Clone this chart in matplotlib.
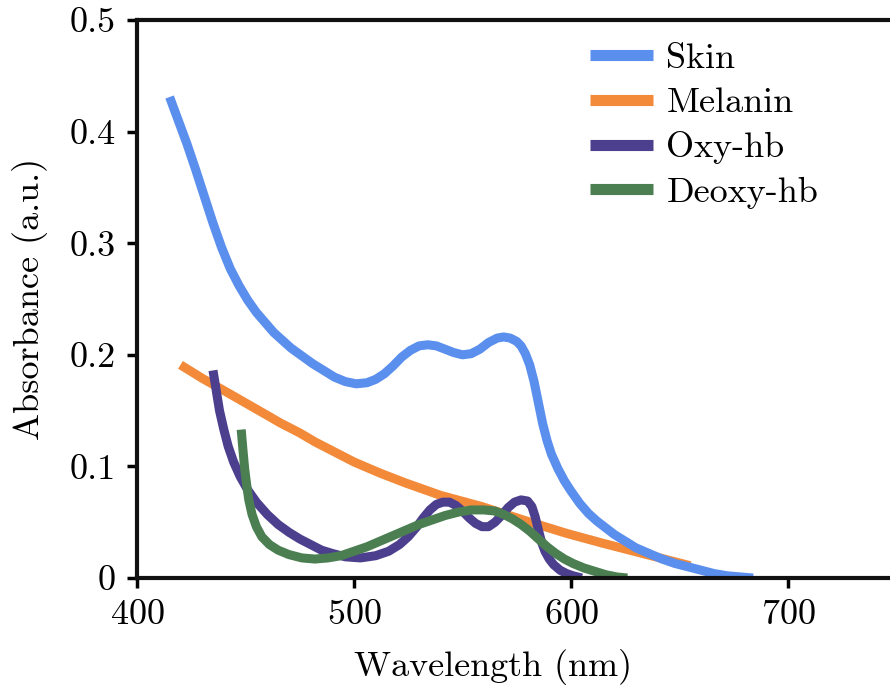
import matplotlib
matplotlib.use("Agg")
import matplotlib.pyplot as plt

# absorbance spectra
skin_wl = [415, 419, 423, 427, 431, 435, 439, 443, 447, 451, 455, 459, 463, 467,
           471, 476, 481, 486, 491, 496, 501, 506, 510, 514, 518, 522, 526, 530,
           534, 538, 542, 546, 550, 554, 558, 562, 566, 569, 572, 575, 577, 579,
           581, 583, 585, 587, 589, 591, 594, 597, 600, 604, 608, 612, 616, 620,
           625, 630, 636, 642, 648, 654, 660, 666, 672, 678, 684]
skin_a = [0.431, 0.410, 0.389, 0.366, 0.342, 0.318, 0.296, 0.277, 0.262, 0.249,
          0.238, 0.229, 0.220, 0.213, 0.206, 0.199, 0.192, 0.186, 0.180, 0.176,
          0.174, 0.175, 0.178, 0.183, 0.190, 0.198, 0.204, 0.208, 0.209, 0.208,
          0.205, 0.202, 0.200, 0.201, 0.205, 0.211, 0.215, 0.216, 0.215, 0.212,
          0.208, 0.201, 0.191, 0.176, 0.157, 0.138, 0.123, 0.111, 0.098, 0.087,
          0.078, 0.067, 0.058, 0.051, 0.045, 0.039, 0.033, 0.027, 0.022, 0.017,
          0.013, 0.010, 0.007, 0.004, 0.002, 0.001, 0.0]

melanin_wl = [420, 430, 440, 449, 458, 466, 475, 482, 489, 500, 512, 524, 540,
              559, 578, 598, 615, 633, 645, 655]
melanin_a = [0.191, 0.179, 0.168, 0.158, 0.148, 0.139, 0.130, 0.122, 0.115,
             0.104, 0.094, 0.085, 0.074, 0.064, 0.052, 0.040, 0.031, 0.022,
             0.016, 0.011]

oxy_wl = [435, 436.5, 438, 440, 442, 444.5, 447.5, 451, 455, 460, 465, 470, 475,
          480, 485, 490, 496, 503, 510, 516, 521, 525, 529, 532, 535, 538, 541,
          544, 547, 550, 553, 556, 559, 562, 565, 568, 571, 574, 577, 580, 582,
          583.5, 585, 586.5, 588, 590, 592, 595, 598, 601, 605]
oxy_a = [0.186, 0.168, 0.150, 0.133, 0.118, 0.104, 0.091, 0.079, 0.068, 0.057,
         0.048, 0.041, 0.035, 0.030, 0.025, 0.022, 0.019, 0.018, 0.020, 0.024,
         0.030, 0.037, 0.046, 0.054, 0.061, 0.066, 0.068, 0.068, 0.065, 0.060,
         0.054, 0.049, 0.046, 0.046, 0.050, 0.056, 0.063, 0.068, 0.070, 0.069,
         0.064, 0.055, 0.043, 0.032, 0.024, 0.017, 0.012, 0.007, 0.004, 0.002,
         0.0]

deoxy_wl = [448, 448.8, 449.6, 450.5, 451.5, 453, 455, 457.5, 461, 465, 470, 476,
            482, 488, 494, 500, 506, 512, 518, 524, 530, 536, 542, 548, 554, 560,
            565, 569, 573, 577, 581, 585, 589, 593, 597, 601, 606, 611, 616, 621,
            626]
deoxy_a = [0.133, 0.115, 0.098, 0.084, 0.070, 0.057, 0.046, 0.037, 0.030, 0.025,
           0.021, 0.018, 0.017, 0.018, 0.020, 0.024, 0.028, 0.033, 0.038, 0.043,
           0.048, 0.052, 0.056, 0.059, 0.061, 0.061, 0.060, 0.057, 0.053, 0.048,
           0.042, 0.035, 0.028, 0.022, 0.017, 0.013, 0.009, 0.006, 0.003, 0.001,
           0.0]

x_ticks = [400, 500, 600, 700]
y_ticks = [0, 0.1, 0.2, 0.3, 0.4, 0.5]
y_labels = ["0", "0.1", "0.2", "0.3", "0.4", "0.5"]

plt.rcParams["font.family"] = "cmr10"
plt.rcParams["axes.formatter.use_mathtext"] = True

fig = plt.figure(figsize=(8.9, 6.9), dpi=100)
# axes run past the right edge, like the cropped original
ax = fig.add_axes([0.154, 0.1623, 0.975, 0.8087])

lw = 6.5
# skin drawn on top of the melanin tail, deoxy over oxy
ax.plot(skin_wl, skin_a, color="#5b8fee", lw=lw, label="Skin", solid_capstyle="butt", zorder=4)
ax.plot(melanin_wl, melanin_a, color="#f28a3a", lw=lw, label="Melanin", solid_capstyle="butt", zorder=1)
ax.plot(oxy_wl, oxy_a, color="#4c3f8e", lw=lw, label="Oxy-hb", solid_capstyle="butt", zorder=2)
ax.plot(deoxy_wl, deoxy_a, color="#4b7f52", lw=lw, label="Deoxy-hb", solid_capstyle="butt", zorder=3)

ax.set_xlim(400, 800)
ax.set_ylim(0, 0.5)
ax.set_xticks(x_ticks)
ax.set_yticks(y_ticks)
ax.set_yticklabels(y_labels)
ax.tick_params(direction="out", length=7.5, width=2.5, labelsize=26, pad=8)

for s in ["left", "bottom", "top"]:
    ax.spines[s].set_linewidth(3)
    ax.spines[s].set_color("#111111")
    ax.spines[s].set_zorder(5)
ax.spines["right"].set_visible(False)

ax.set_xlabel("Wavelength (nm)", fontsize=26)
ax.set_ylabel("Absorbance (a.u.)", fontsize=26)
ax.xaxis.set_label_coords(0.41, -0.127)
ax.yaxis.set_label_coords(-0.103, 0.5)

leg = ax.legend(loc="upper left", bbox_to_anchor=(0.634, 0.975), bbox_transform=fig.transFigure,
                frameon=False, fontsize=26, handlelength=1.75, handletextpad=0.38,
                labelspacing=0.335, borderpad=0.2)
leg.set_zorder(6)
for line in leg.get_lines():
    line.set_linewidth(8)
    line.set_solid_capstyle("butt")

fig.savefig("out.png", dpi=100)
